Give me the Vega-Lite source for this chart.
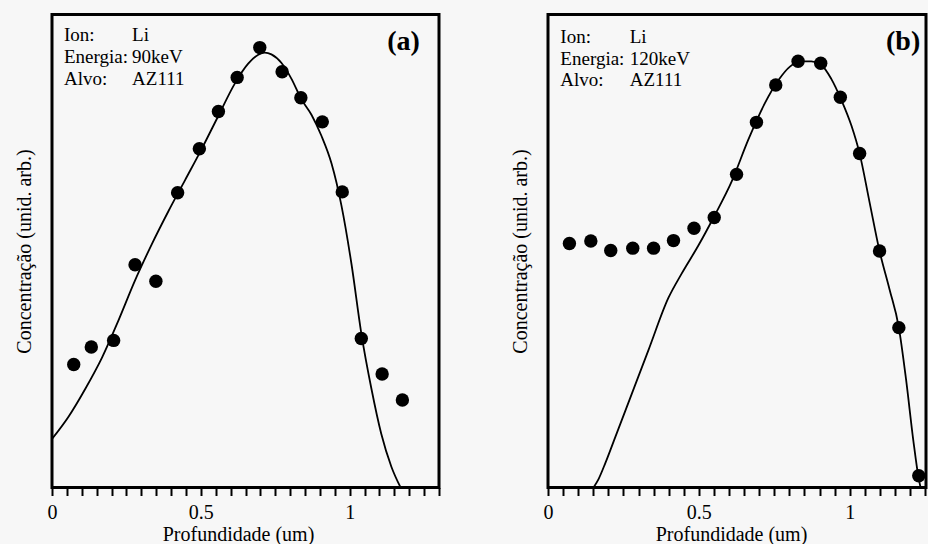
{
  "$schema": "https://vega.github.io/schema/vega-lite/v6.json",
  "background": "#f7f7f7",
  "padding": {"left": 12, "top": 12.5, "right": 0, "bottom": 0},
  "spacing": 66,
  "config": {
    "view": {"stroke": "black", "strokeWidth": 3},
    "font": "Liberation Serif",
    "axis": {"labelColor": "black", "titleColor": "black", "tickColor": "black", "titleFontWeight": "normal", "grid": false}
  },
  "datasets": {
    "curveA": [
      {"x": 0, "y": 10.26}, {"x": 0.056, "y": 15.02}, {"x": 0.112, "y": 20.88}, {"x": 0.168, "y": 27.47},
      {"x": 0.223, "y": 35.3}, {"x": 0.279, "y": 43.8}, {"x": 0.335, "y": 51.4}, {"x": 0.391, "y": 58.4},
      {"x": 0.447, "y": 65.0}, {"x": 0.503, "y": 71.6}, {"x": 0.559, "y": 78.6}, {"x": 0.615, "y": 85.5},
      {"x": 0.659, "y": 89.6}, {"x": 0.693, "y": 91.5}, {"x": 0.715, "y": 91.94}, {"x": 0.737, "y": 91.58},
      {"x": 0.771, "y": 89.74}, {"x": 0.804, "y": 86.45}, {"x": 0.838, "y": 82.05}, {"x": 0.872, "y": 78.75},
      {"x": 0.905, "y": 74.36}, {"x": 0.939, "y": 68.5}, {"x": 0.972, "y": 59.71}, {"x": 1.006, "y": 47.25},
      {"x": 1.039, "y": 32.6}, {"x": 1.073, "y": 20.88}, {"x": 1.106, "y": 11.36}, {"x": 1.14, "y": 4.4},
      {"x": 1.171, "y": 0}
    ],
    "pointsA": [
      {"x": 0.073, "y": 26.0}, {"x": 0.132, "y": 29.7}, {"x": 0.207, "y": 31.1}, {"x": 0.279, "y": 47.1},
      {"x": 0.349, "y": 43.6}, {"x": 0.422, "y": 62.3}, {"x": 0.495, "y": 71.6}, {"x": 0.559, "y": 79.5},
      {"x": 0.622, "y": 86.7}, {"x": 0.698, "y": 93.0}, {"x": 0.773, "y": 87.9}, {"x": 0.836, "y": 82.4},
      {"x": 0.908, "y": 77.3}, {"x": 0.975, "y": 62.5}, {"x": 1.039, "y": 31.5}, {"x": 1.109, "y": 24.0},
      {"x": 1.177, "y": 18.5}
    ],
    "annoA": [
      {"x": 0.04, "y": 94.3, "t": "Ion:"}, {"x": 0.04, "y": 89.65, "t": "Energia:"}, {"x": 0.04, "y": 85.0, "t": "Alvo:"},
      {"x": 0.269, "y": 94.3, "t": "Li"}, {"x": 0.269, "y": 89.65, "t": "90keV"}, {"x": 0.269, "y": 85.0, "t": "AZ111"}
    ],
    "labelA": [{"x": 1.236, "y": 92.4, "t": "(a)"}],
    "curveB": [
      {"x": 0.151, "y": 0}, {"x": 0.168, "y": 1.84}, {"x": 0.19, "y": 5.15}, {"x": 0.223, "y": 10.66},
      {"x": 0.278, "y": 19.85}, {"x": 0.333, "y": 29.04}, {"x": 0.399, "y": 40.07}, {"x": 0.443, "y": 45.22},
      {"x": 0.498, "y": 51.1}, {"x": 0.551, "y": 57.35}, {"x": 0.609, "y": 64.71}, {"x": 0.664, "y": 73.53},
      {"x": 0.719, "y": 81.25}, {"x": 0.763, "y": 86.03}, {"x": 0.802, "y": 88.97}, {"x": 0.84, "y": 90.07},
      {"x": 0.873, "y": 90.07}, {"x": 0.906, "y": 89.34}, {"x": 0.939, "y": 86.4}, {"x": 0.972, "y": 81.99},
      {"x": 1.006, "y": 76.47}, {"x": 1.033, "y": 70.59}, {"x": 1.066, "y": 60.29}, {"x": 1.099, "y": 50.0},
      {"x": 1.132, "y": 41.91}, {"x": 1.163, "y": 33.82}, {"x": 1.187, "y": 22.79}, {"x": 1.211, "y": 9.93},
      {"x": 1.228, "y": 2.21}, {"x": 1.235, "y": 0}
    ],
    "pointsB": [
      {"x": 0.071, "y": 51.6}, {"x": 0.142, "y": 52.1}, {"x": 0.208, "y": 50.1}, {"x": 0.281, "y": 50.6},
      {"x": 0.35, "y": 50.6}, {"x": 0.416, "y": 52.2}, {"x": 0.484, "y": 54.8}, {"x": 0.551, "y": 57.1},
      {"x": 0.625, "y": 66.2}, {"x": 0.691, "y": 77.2}, {"x": 0.755, "y": 85.1}, {"x": 0.829, "y": 90.1},
      {"x": 0.904, "y": 89.7}, {"x": 0.969, "y": 82.5}, {"x": 1.033, "y": 70.6}, {"x": 1.099, "y": 50.0},
      {"x": 1.163, "y": 33.8}, {"x": 1.229, "y": 2.5}
    ],
    "annoB": [
      {"x": 0.041, "y": 93.9, "t": "Ion:"}, {"x": 0.041, "y": 89.4, "t": "Energia:"}, {"x": 0.041, "y": 84.8, "t": "Alvo:"},
      {"x": 0.271, "y": 93.9, "t": "Li"}, {"x": 0.271, "y": 89.4, "t": "120keV"}, {"x": 0.271, "y": 84.8, "t": "AZ111"}
    ],
    "labelB": [{"x": 1.234, "y": 92.4, "t": "(b)"}]
  },
  "hconcat": [
    {
      "width": 387,
      "height": 473,
      "encoding": {
        "x": {
          "field": "x", "type": "quantitative",
          "scale": {"domain": [0, 1.3], "nice": false, "zero": false},
          "axis": {
            "title": "Profundidade (um)",
            "values": [0, 0.05, 0.1, 0.15, 0.2, 0.25, 0.3, 0.35, 0.4, 0.45, 0.5, 0.55, 0.6, 0.65, 0.7, 0.75, 0.8, 0.85, 0.9, 0.95, 1, 1.05, 1.1, 1.15, 1.2, 1.25, 1.3],
            "labelExpr": "datum.value == 0 ? '0' : abs(datum.value - 0.5) < 0.001 ? '0.5' : abs(datum.value - 1) < 0.001 ? '1' : ''",
            "domain": false, "tickSize": 8, "tickWidth": 2, "labelFontSize": 20, "labelPadding": 7,
            "labelFlush": false, "labelOverlap": false, "titleFontSize": 20, "titlePadding": 2, "titleX": 186
          }
        },
        "y": {
          "field": "y", "type": "quantitative",
          "scale": {"domain": [0, 100], "nice": false, "zero": false},
          "axis": {"title": "Concentração (unid. arb.)", "labels": false, "ticks": false, "domain": false, "titleFontSize": 20, "titlePadding": 18}
        }
      },
      "layer": [
        {"data": {"name": "curveA"}, "mark": {"type": "line", "color": "black", "strokeWidth": 1.8, "interpolate": "monotone", "clip": true}},
        {"data": {"name": "pointsA"}, "mark": {"type": "circle", "color": "black", "size": 180, "opacity": 1}},
        {"data": {"name": "annoA"}, "mark": {"type": "text", "align": "left", "baseline": "alphabetic", "fontSize": 19, "color": "black"}, "encoding": {"text": {"field": "t"}}},
        {"data": {"name": "labelA"}, "mark": {"type": "text", "align": "right", "baseline": "alphabetic", "fontSize": 28, "fontWeight": "bold", "color": "black"}, "encoding": {"text": {"field": "t"}}}
      ]
    },
    {
      "width": 378,
      "height": 473,
      "encoding": {
        "x": {
          "field": "x", "type": "quantitative",
          "scale": {"domain": [0, 1.253], "nice": false, "zero": false},
          "axis": {
            "title": "Profundidade (um)",
            "values": [0, 0.05, 0.1, 0.15, 0.2, 0.25, 0.3, 0.35, 0.4, 0.45, 0.5, 0.55, 0.6, 0.65, 0.7, 0.75, 0.8, 0.85, 0.9, 0.95, 1, 1.05, 1.1, 1.15, 1.2, 1.25],
            "labelExpr": "datum.value == 0 ? '0' : abs(datum.value - 0.5) < 0.001 ? '0.5' : abs(datum.value - 1) < 0.001 ? '1' : ''",
            "domain": false, "tickSize": 8, "tickWidth": 2, "labelFontSize": 20, "labelPadding": 7,
            "labelFlush": false, "labelOverlap": false, "titleFontSize": 20, "titlePadding": 2, "titleX": 183
          }
        },
        "y": {
          "field": "y", "type": "quantitative",
          "scale": {"domain": [0, 100], "nice": false, "zero": false},
          "axis": {"title": "Concentração (unid. arb.)", "labels": false, "ticks": false, "domain": false, "titleFontSize": 20, "titlePadding": 18}
        }
      },
      "layer": [
        {"data": {"name": "curveB"}, "mark": {"type": "line", "color": "black", "strokeWidth": 1.8, "interpolate": "monotone", "clip": true}},
        {"data": {"name": "pointsB"}, "mark": {"type": "circle", "color": "black", "size": 180, "opacity": 1}},
        {"data": {"name": "annoB"}, "mark": {"type": "text", "align": "left", "baseline": "alphabetic", "fontSize": 19, "color": "black"}, "encoding": {"text": {"field": "t"}}},
        {"data": {"name": "labelB"}, "mark": {"type": "text", "align": "right", "baseline": "alphabetic", "fontSize": 28, "fontWeight": "bold", "color": "black"}, "encoding": {"text": {"field": "t"}}}
      ]
    }
  ]
}
